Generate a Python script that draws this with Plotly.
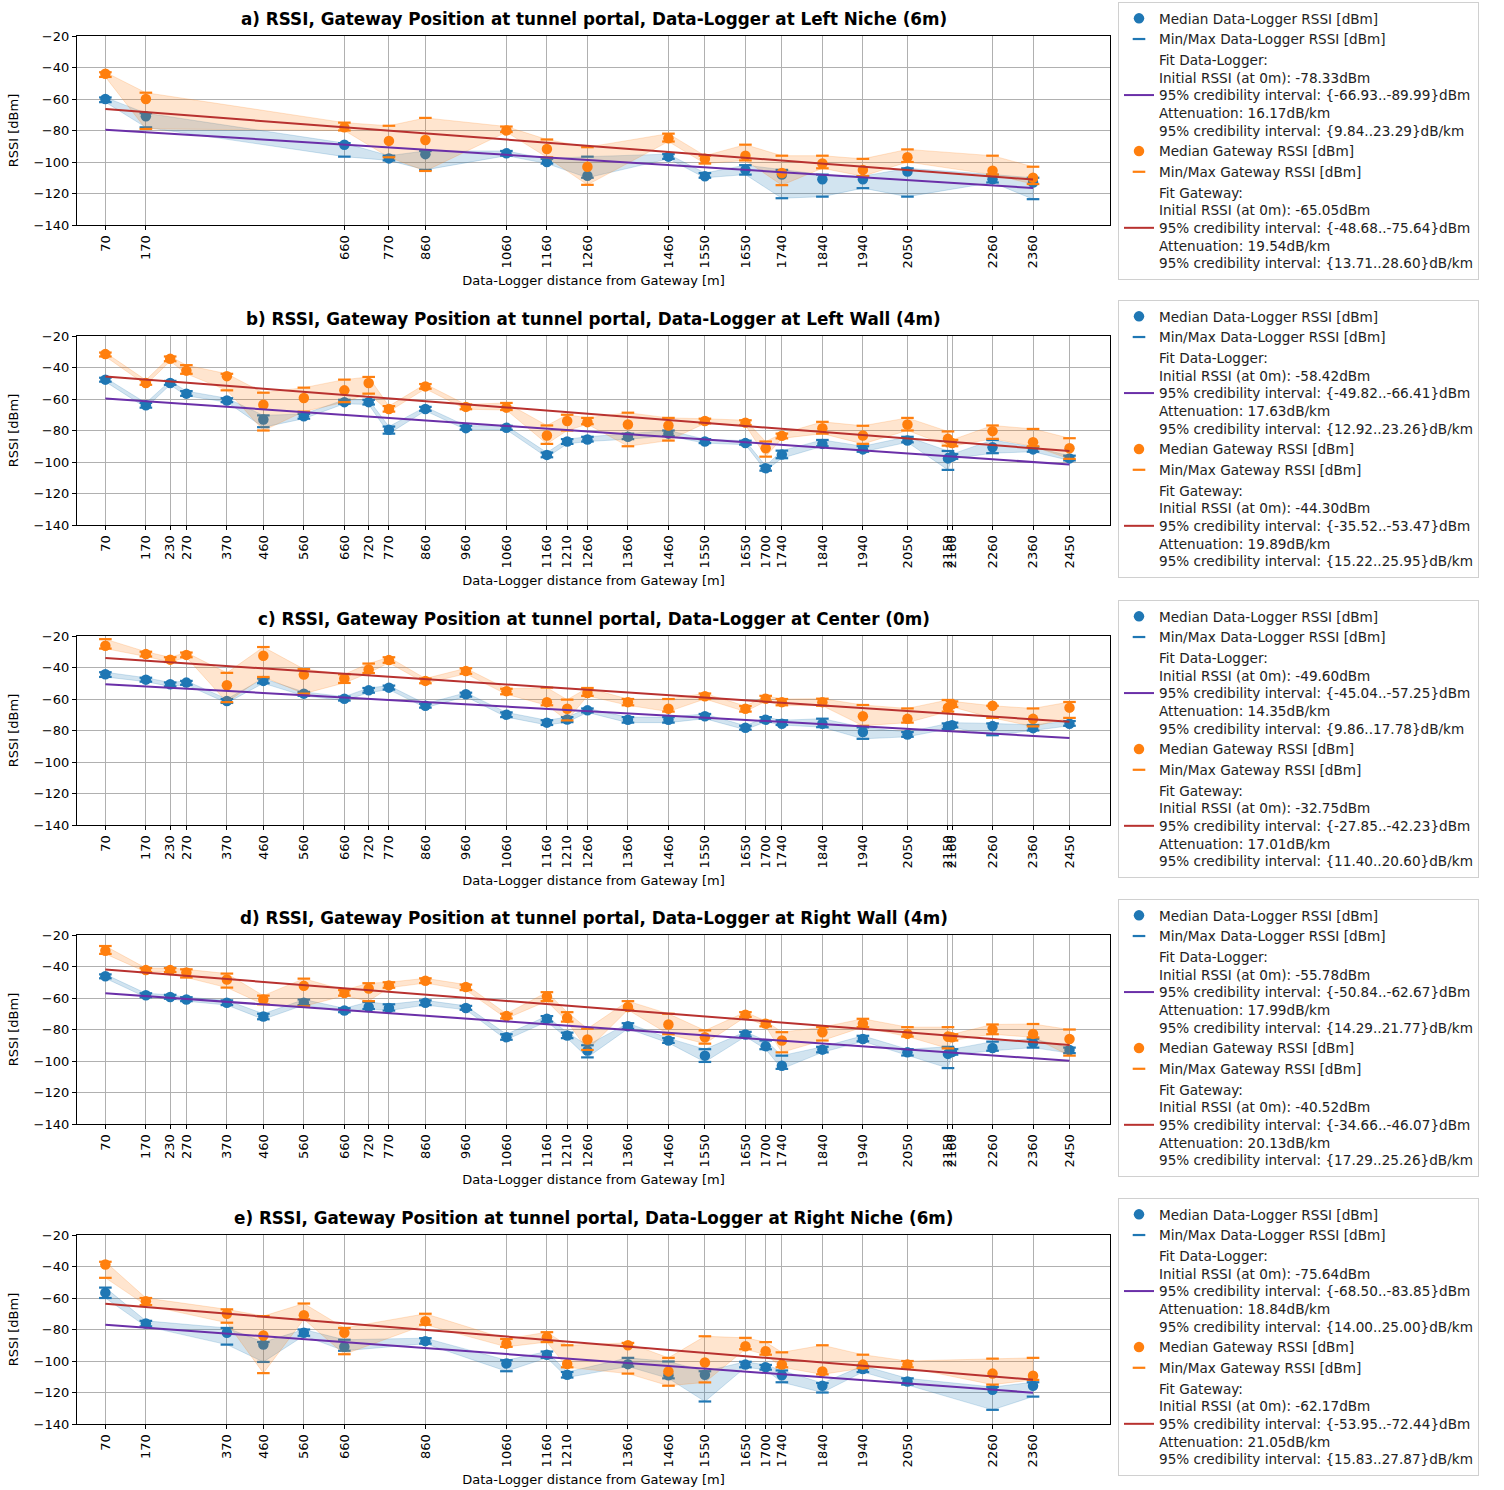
import plotly.graph_objects as go

W, H = 1504, 1490

TITLES = [
    "a) RSSI, Gateway Position at tunnel portal, Data-Logger at Left Niche (6m)",
    "b) RSSI, Gateway Position at tunnel portal, Data-Logger at Left Wall (4m)",
    "c) RSSI, Gateway Position at tunnel portal, Data-Logger at Center (0m)",
    "d) RSSI, Gateway Position at tunnel portal, Data-Logger at Right Wall (4m)",
    "e) RSSI, Gateway Position at tunnel portal, Data-Logger at Right Niche (6m)",
]

# ---- panel a ----
A_X = [70, 170, 660, 770, 860, 1060, 1160, 1260, 1460, 1550, 1650, 1740, 1840, 1940, 2050, 2260, 2360]
A_DL_MED = [-60, -71, -89, -97.7, -95, -94.5, -100, -108.7, -96.6, -109, -105, -108, -111, -111, -106, -111, -113]
A_DL_MIN = [-62, -78, -96.6, -99, -105, -96, -101, -110, -98, -110, -108, -123, -122, -116.6, -122, -113, -123.6]
A_DL_MAX = [-59, -69, -88, -96, -93, -93, -98, -96.6, -95, -107, -102, -105, -108, -109, -104, -108, -110]
A_GW_MED = [-44, -60, -78, -86.6, -86, -80, -91.7, -103, -84.9, -98, -96, -107, -101, -105, -97, -105.5, -110]
A_GW_MIN = [-46, -79, -80, -97, -105.7, -81, -97, -114.5, -87, -101, -99, -114.7, -104, -109, -100, -108, -114]
A_GW_MAX = [-43, -56, -75, -77, -72, -77.5, -85.7, -90.6, -82, -96, -89, -96, -96, -98, -92, -96, -103]

# ---- panels b, c, d share positions ----
BCD_X = [70, 170, 230, 270, 370, 460, 560, 660, 720, 770, 860, 960, 1060, 1160, 1210, 1260, 1360,
         1460, 1550, 1650, 1700, 1740, 1840, 1940, 2050, 2150, 2160, 2260, 2360, 2450]

B_DL_MED = [-47.7, -64, -49.8, -56.6, -60.9, -73, -71, -62, -62, -79.6, -66.4, -78.5, -78.3, -95.5, -87, -85.7, -84,
            -82, -87, -88, -104, -95.3, -88.5, -92, -86.4, -97.7, -96.6, -90.6, -92, -97.7]
B_DL_MIN = [-49, -65.5, -51, -58, -62, -77.9, -72.5, -63, -63.5, -82, -67.5, -79.5, -79.5, -97, -88.5, -87, -85.5,
            -83.5, -88, -89, -105.5, -97.6, -90, -93.5, -87.5, -105, -98, -94.4, -93.5, -99]
B_DL_MAX = [-46.5, -62.5, -48.5, -55, -59.5, -70.4, -69.5, -60.5, -60.5, -77.5, -65, -77, -77, -94, -85.5, -84, -82,
            -80, -85.5, -86.5, -102.5, -92.8, -86, -90, -84, -93, -95, -86, -90.5, -96]
B_GW_MED = [-31.5, -49.8, -34.5, -42, -45.5, -63.6, -59.4, -54.5, -49.8, -66.4, -52, -65, -65.5, -83.2, -74, -74.7, -76.2,
            -76.8, -74, -75, -91.3, -83.4, -78.5, -83.2, -76.2, -85.3, -88, -80.4, -87.4, -91.3]
B_GW_MIN = [-33, -51, -36, -44, -54.5, -80, -68, -62, -56.6, -68, -53.5, -66.5, -67, -88.5, -80, -76, -90,
            -86.4, -75.5, -76.5, -96.6, -85, -82, -88.5, -80, -89.6, -90, -85.3, -90, -98]
B_GW_MAX = [-30.5, -48, -33, -38.5, -44, -56, -52.8, -47.7, -46, -64.5, -50.5, -63.5, -62.5, -76.8, -70, -72, -68.7,
            -72, -72.5, -73.5, -87, -82, -74.5, -77, -72, -80.6, -86, -76.8, -79, -84.9]

C_DL_MED = [-44.3, -47.7, -50.6, -49.6, -61.3, -48.5, -56.6, -59.8, -54.5, -52.8, -64.3, -57, -70, -75, -73, -67.2, -73.2,
            -73.2, -71, -78.3, -73.2, -75.7, -75.7, -81, -82.6, -77.4, -76.6, -77.2, -78.5, -75.7]
C_DL_MIN = [-46, -49, -52, -51, -62.5, -50, -58, -61, -56, -54, -65.5, -58.5, -71.5, -76.5, -74.7, -68.5, -75,
            -75, -72.5, -79.5, -74.5, -76.5, -77.9, -85.3, -84, -79, -78, -83, -80, -77]
C_DL_MAX = [-43, -46.5, -49.5, -48.5, -60, -47, -55.5, -58.5, -53, -51.5, -63, -56, -68.5, -73.5, -71.5, -66, -71.5,
            -71.5, -69.5, -77, -71.5, -73.5, -72.5, -78, -81, -75.5, -75, -75.5, -76.5, -74]
C_GW_MED = [-26.2, -31.5, -35, -32, -51.3, -32.5, -44.5, -47, -41.3, -35.3, -48.5, -42.3, -55, -62, -66.2, -56.2, -62,
            -66.2, -58.3, -66.2, -59.8, -62, -62, -70.9, -72.6, -65.5, -63.4, -64.3, -72.6, -65.5]
C_GW_MIN = [-28, -33, -36.5, -33.5, -62, -46, -56.6, -49.8, -43.5, -37, -50, -44, -57, -64, -73.6, -58, -64,
            -68, -60, -68, -61.5, -64, -64.3, -77, -75, -68, -65, -72, -77.4, -72]
C_GW_MAX = [-22, -30, -33.5, -30.5, -43.4, -27, -41, -44.3, -37.5, -33.5, -47, -40.5, -53.5, -52.8, -60.4, -53, -60,
            -60, -56.5, -64.5, -58, -60, -59.8, -63.8, -66, -60.6, -61.5, -64.3, -66, -61.9]

D_DL_MED = [-46.2, -58.3, -59.4, -60.9, -63, -71.7, -63, -67.9, -65.7, -66.4, -63, -66.4, -84.9, -73.2, -83.8, -93.4, -77.9,
            -87, -96.6, -83.2, -90.6, -103, -92.8, -86, -94.5, -95.5, -94.3, -91.7, -88.5, -93]
D_DL_MIN = [-47.5, -59.5, -60.5, -62, -64.5, -73.5, -64.5, -69, -67, -68, -64.5, -67.5, -86.5, -75, -85.5, -97.7, -79.5,
            -88.5, -100.6, -84.5, -92.5, -105, -94.5, -87.5, -96.5, -104.5, -96, -93.5, -91.5, -95]
D_DL_MAX = [-45, -57, -58, -59.5, -61.5, -70, -61, -66.5, -62.5, -64, -61.5, -65, -83, -71.5, -82, -90, -76,
            -85.5, -92.5, -81.5, -87, -96.6, -91, -84, -92.5, -91, -92.5, -87.7, -85.9, -91.5]
D_GW_MED = [-30, -42.3, -42.3, -43.8, -48.3, -60.9, -52.3, -56.8, -54, -52, -49, -53, -71.5, -59, -72.6, -86.4, -65.7,
            -76.8, -84.9, -70.6, -76.4, -87, -81.7, -76.4, -82.8, -84.5, -84.9, -80, -82.8, -86]
D_GW_MIN = [-32, -43.5, -43.5, -47, -53.4, -64, -65.3, -58.5, -62, -53.5, -50.5, -55, -73, -62, -75, -93, -67.5,
            -83, -89, -72, -78, -94.5, -87, -78.5, -84.5, -92, -87, -83, -85, -96.6]
D_GW_MAX = [-27, -41, -41, -41.8, -44.5, -58.5, -47.7, -55, -50.6, -50, -47.5, -51.5, -70, -56.3, -69, -79.5, -62,
            -70, -80.6, -69, -74.5, -81.7, -78.5, -73.2, -78.5, -78.5, -83, -76.8, -76.5, -80]

# ---- panel e ----
E_X = [70, 170, 370, 460, 560, 660, 860, 1060, 1160, 1210, 1360, 1460, 1550, 1650, 1700, 1740, 1840, 1940, 2050, 2260, 2360]
E_DL_MED = [-56.6, -76.2, -82.1, -89.6, -82.1, -91, -87.4, -101.6, -96, -108.7, -102, -109, -108.7, -102.3, -104, -109,
            -115.7, -105.1, -113, -118.3, -115.7]
E_DL_MIN = [-60, -78, -89.6, -100.6, -84, -93.5, -89, -106.5, -98, -110.5, -103.5, -111, -125.7, -104, -105.5, -113.5,
            -120, -107, -115, -131, -122.6]
E_DL_MAX = [-53.4, -74.5, -79, -88, -80, -86.5, -85.5, -99.5, -94, -107, -98, -100.3, -106.5, -100.5, -102.5, -106,
            -114, -103, -111, -116.5, -113.5]
E_GW_MED = [-38.7, -62, -70, -83.8, -71, -82.1, -74.7, -89, -84.9, -101.9, -90, -106.6, -100.9, -90.6, -93.8, -102.3,
            -106.6, -102.3, -102.3, -108, -109.4]
E_GW_MIN = [-47.2, -64.5, -75.7, -107.7, -73.5, -95.7, -77, -91, -88, -104, -108, -115.7, -113.6, -92.5, -96, -104,
            -108.5, -104.5, -104, -115, -112]
E_GW_MAX = [-37, -60, -67.2, -71.5, -63.5, -79, -70, -86, -81.7, -90, -88.5, -98, -84.3, -85.3, -88, -94.5,
            -90, -96, -100, -98.5, -98]

# ---- fit results (initial RSSI, CI, attenuation, CI) ----
DL_FIT_INIT = [-78.33, -58.42, -49.60, -55.78, -75.64]
DL_FIT_INIT_CI = [("-66.93", "-89.99"), ("-49.82", "-66.41"), ("-45.04", "-57.25"), ("-50.84", "-62.67"), ("-68.50", "-83.85")]
DL_FIT_ATT = [16.17, 17.63, 14.35, 17.99, 18.84]
DL_FIT_ATT_CI = [("9.84", "23.29"), ("12.92", "23.26"), ("9.86", "17.78"), ("14.29", "21.77"), ("14.00", "25.00")]
GW_FIT_INIT = [-65.05, -44.30, -32.75, -40.52, -62.17]
GW_FIT_INIT_CI = [("-48.68", "-75.64"), ("-35.52", "-53.47"), ("-27.85", "-42.23"), ("-34.66", "-46.07"), ("-53.95", "-72.44")]
GW_FIT_ATT = [19.54, 19.89, 17.01, 20.13, 21.05]
GW_FIT_ATT_CI = [("13.71", "28.60"), ("15.22", "25.95"), ("11.40", "20.60"), ("17.29", "25.26"), ("15.83", "27.87")]

Y_TICKS = [-20, -40, -60, -80, -100, -120, -140]

PANELS = [
    (A_X, A_DL_MED, A_DL_MIN, A_DL_MAX, A_GW_MED, A_GW_MIN, A_GW_MAX),
    (BCD_X, B_DL_MED, B_DL_MIN, B_DL_MAX, B_GW_MED, B_GW_MIN, B_GW_MAX),
    (BCD_X, C_DL_MED, C_DL_MIN, C_DL_MAX, C_GW_MED, C_GW_MIN, C_GW_MAX),
    (BCD_X, D_DL_MED, D_DL_MIN, D_DL_MAX, D_GW_MED, D_GW_MIN, D_GW_MAX),
    (E_X, E_DL_MED, E_DL_MIN, E_DL_MAX, E_GW_MED, E_GW_MIN, E_GW_MAX),
]

BLUE = "#1f77b4"
ORANGE = "#ff7f0e"
BLUE_FILL = "rgba(31,119,180,0.2)"
ORANGE_FILL = "rgba(255,127,14,0.2)"
PURPLE = "#6a2fa8"
RED = "#b8312f"
FONT = "DejaVu Sans"

# pixel layout
PLOT_L, PLOT_R = 77, 1110
TOPS = [36, 336, 636, 935, 1235]
PH = 189
LEG_TOPS = [2, 300, 600, 899, 1198]


def px(x):
    return x / W


def py(y):
    return 1 - y / H


fig = go.Figure()
layout = dict(
    width=W, height=H, margin=dict(l=0, r=0, t=0, b=0, autoexpand=False),
    paper_bgcolor="white", plot_bgcolor="white",
    font=dict(family=FONT, size=13, color="black"),
    annotations=[], showlegend=True,
)

for i, (xs, dmed, dmin, dmax, gmed, gmin, gmax) in enumerate(PANELS):
    n = i + 1
    xa = "x" if n == 1 else f"x{n}"
    ya = "y" if n == 1 else f"y{n}"
    leg = "legend" if n == 1 else f"legend{n}"
    xmax = xs[-1]
    fit_x = [xs[0], xmax]
    dl_fit_y = [DL_FIT_INIT[i] - DL_FIT_ATT[i] * v / 1000 for v in fit_x]
    gw_fit_y = [GW_FIT_INIT[i] - GW_FIT_ATT[i] * v / 1000 for v in fit_x]

    dl_name = ("Fit Data-Logger:<br>Initial RSSI (at 0m): %.2fdBm<br>95%% credibility interval: {%s..%s}dBm"
               "<br>Attenuation: %.2fdB/km<br>95%% credibility interval: {%s..%s}dB/km"
               % (DL_FIT_INIT[i], DL_FIT_INIT_CI[i][0], DL_FIT_INIT_CI[i][1], DL_FIT_ATT[i],
                  DL_FIT_ATT_CI[i][0], DL_FIT_ATT_CI[i][1]))
    gw_name = ("Fit Gateway:<br>Initial RSSI (at 0m): %.2fdBm<br>95%% credibility interval: {%s..%s}dBm"
               "<br>Attenuation: %.2fdB/km<br>95%% credibility interval: {%s..%s}dB/km"
               % (GW_FIT_INIT[i], GW_FIT_INIT_CI[i][0], GW_FIT_INIT_CI[i][1], GW_FIT_ATT[i],
                  GW_FIT_ATT_CI[i][0], GW_FIT_ATT_CI[i][1]))

    common = dict(xaxis=xa, yaxis=ya, legend=leg)
    fig.add_trace(go.Scatter(x=list(xs) + list(xs)[::-1], y=list(dmax) + list(dmin)[::-1], fill="toself",
                             fillcolor=BLUE_FILL, line=dict(color=BLUE_FILL, width=1), mode="lines",
                             showlegend=False, hoverinfo="skip", **common))
    fig.add_trace(go.Scatter(x=xs, y=dmed, mode="markers", marker=dict(color=BLUE, size=10.5),
                             name="Median Data-Logger RSSI [dBm]", legendrank=1, **common))
    fig.add_trace(go.Scatter(x=list(xs) + list(xs), y=list(dmin) + list(dmax), mode="markers",
                             marker=dict(symbol="line-ew", size=9, color=BLUE, line=dict(color=BLUE, width=2.2)),
                             name="Min/Max Data-Logger RSSI [dBm]", legendrank=2, **common))
    fig.add_trace(go.Scatter(x=list(xs) + list(xs)[::-1], y=list(gmax) + list(gmin)[::-1], fill="toself",
                             fillcolor=ORANGE_FILL, line=dict(color=ORANGE_FILL, width=1), mode="lines",
                             showlegend=False, hoverinfo="skip", **common))
    fig.add_trace(go.Scatter(x=xs, y=gmed, mode="markers", marker=dict(color=ORANGE, size=10.5),
                             name="Median Gateway RSSI [dBm]", legendrank=4, **common))
    fig.add_trace(go.Scatter(x=list(xs) + list(xs), y=list(gmin) + list(gmax), mode="markers",
                             marker=dict(symbol="line-ew", size=9, color=ORANGE, line=dict(color=ORANGE, width=2.2)),
                             name="Min/Max Gateway RSSI [dBm]", legendrank=5, **common))
    fig.add_trace(go.Scatter(x=fit_x, y=dl_fit_y, mode="lines", line=dict(color=PURPLE, width=2),
                             name=dl_name, legendrank=3, **common))
    fig.add_trace(go.Scatter(x=fit_x, y=gw_fit_y, mode="lines", line=dict(color=RED, width=2),
                             name=gw_name, legendrank=6, **common))

    top, bot = TOPS[i], TOPS[i] + PH
    axis_common = dict(showline=True, linecolor="black", linewidth=1.2, mirror=True,
                       showgrid=True, gridcolor="#b0b0b0", gridwidth=1, zeroline=False,
                       ticks="outside", ticklen=4, tickcolor="black", automargin=False,
                       tickfont=dict(family=FONT, size=13, color="black"))
    layout["xaxis" if n == 1 else f"xaxis{n}"] = dict(
        domain=[px(PLOT_L), px(PLOT_R)], anchor=ya, range=[0, 2550],
        tickmode="array", tickvals=xs, ticktext=[str(v) for v in xs], tickangle=-90,
        title=dict(text="Data-Logger distance from Gateway [m]", font=dict(family=FONT, size=13), standoff=8),
        **axis_common)
    layout["yaxis" if n == 1 else f"yaxis{n}"] = dict(
        domain=[py(bot), py(top)], anchor=xa, range=[-140, -20],
        tickmode="array", tickvals=Y_TICKS, ticktext=["\u2212" + str(-v) for v in Y_TICKS],
        title=dict(text="RSSI [dBm]", font=dict(family=FONT, size=13), standoff=12),
        **axis_common)
    layout["annotations"].append(dict(
        text="<b>" + TITLES[i] + "</b>", x=(px(PLOT_L) + px(PLOT_R)) / 2, y=py(top - 5),
        xref="paper", yref="paper", xanchor="center", yanchor="bottom", showarrow=False,
        font=dict(family=FONT, size=16.8, color="black")))
    layout[leg] = dict(
        x=px(1118), y=py(LEG_TOPS[i]), xanchor="left", yanchor="top",
        bgcolor="white", bordercolor="#d0d0d0", borderwidth=1,
        font=dict(family=FONT, size=13.6, color="#222222"), tracegroupgap=0, itemwidth=30,
        traceorder="normal")

fig.update_layout(**layout)
fig.write_html("out.html", config={"displayModeBar": False},
               post_script="document.body.style.margin='0px';")
